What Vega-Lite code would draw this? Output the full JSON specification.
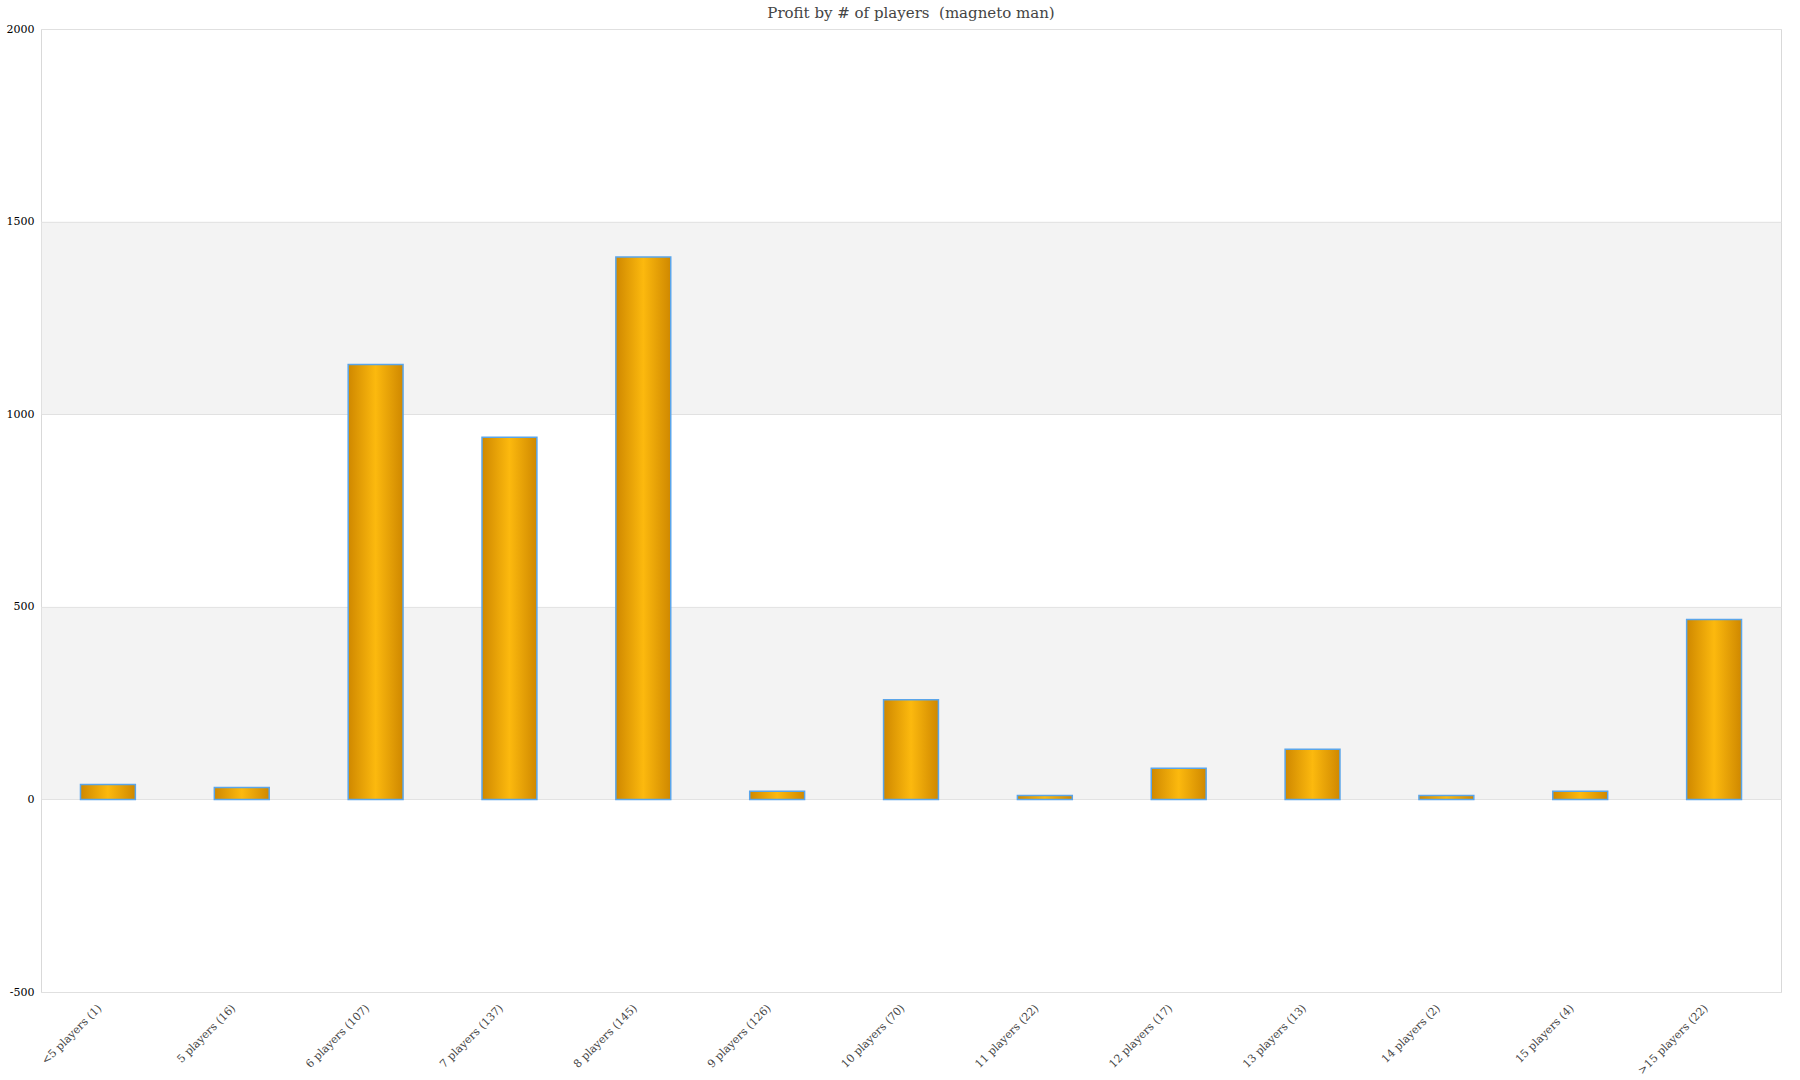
{
  "$schema": "https://vega.github.io/schema/vega-lite/v6.json",
  "autosize": {"type": "none"},
  "width": 1740,
  "height": 963,
  "padding": {"left": 41, "top": 29, "right": 19, "bottom": 88},
  "background": "white",
  "title": {
    "text": "Profit by # of players \u00a0(magneto man)",
    "font": "DejaVu Serif",
    "fontSize": 15,
    "fontWeight": "normal",
    "color": "#444444",
    "anchor": "middle",
    "offset": 2
  },
  "layer": [
    {
      "data": {"values": [{"lo": 0, "hi": 500}, {"lo": 1000, "hi": 1500}]},
      "mark": {"type": "rect", "color": "#e8e8e8", "opacity": 0.5},
      "encoding": {
        "y": {
          "field": "lo",
          "type": "quantitative",
          "scale": {"domain": [-500, 2000], "nice": false},
          "axis": {
            "title": null,
            "values": [-500, 0, 500, 1000, 1500, 2000],
            "labelExpr": "datum.value + ''",
            "domain": false,
            "ticks": false,
            "labelPadding": 7,
            "labelFont": "DejaVu Serif",
            "labelFontSize": 11,
            "labelColor": "#000000",
            "gridColor": "#e0e0e0"
          }
        },
        "y2": {"field": "hi"}
      }
    },
    {
      "data": {
        "values": [
          {"group": "<5 players (1)", "profit": 39},
          {"group": "5 players (16)", "profit": 31},
          {"group": "6 players (107)", "profit": 1129},
          {"group": "7 players (137)", "profit": 940},
          {"group": "8 players (145)", "profit": 1408},
          {"group": "9 players (126)", "profit": 21},
          {"group": "10 players (70)", "profit": 259},
          {"group": "11 players (22)", "profit": 10},
          {"group": "12 players (17)", "profit": 81},
          {"group": "13 players (13)", "profit": 130},
          {"group": "14 players (2)", "profit": 10},
          {"group": "15 players (4)", "profit": 21},
          {"group": ">15 players (22)", "profit": 467}
        ]
      },
      "mark": {
        "type": "bar",
        "color": {
          "gradient": "linear",
          "x1": 0, "y1": 0, "x2": 1, "y2": 0,
          "stops": [
            {"offset": 0, "color": "#cf8800"},
            {"offset": 0.5, "color": "#fcb90e"},
            {"offset": 1, "color": "#cf8800"}
          ]
        },
        "stroke": "#5aa5ea",
        "strokeWidth": 1.5
      },
      "encoding": {
        "x": {
          "field": "group",
          "type": "nominal",
          "sort": null,
          "scale": {"paddingInner": 0.59, "paddingOuter": 0.295},
          "axis": {
            "title": null,
            "domain": false,
            "ticks": false,
            "labelAngle": -45,
            "labelAlign": "right",
            "labelBaseline": "top",
            "labelPadding": 10,
            "labelOffset": -12,
            "labelFont": "DejaVu Serif",
            "labelFontSize": 11,
            "labelColor": "#444444"
          }
        },
        "y": {"field": "profit", "type": "quantitative"}
      }
    }
  ],
  "config": {"view": {"stroke": "#d9d9d9"}}
}
